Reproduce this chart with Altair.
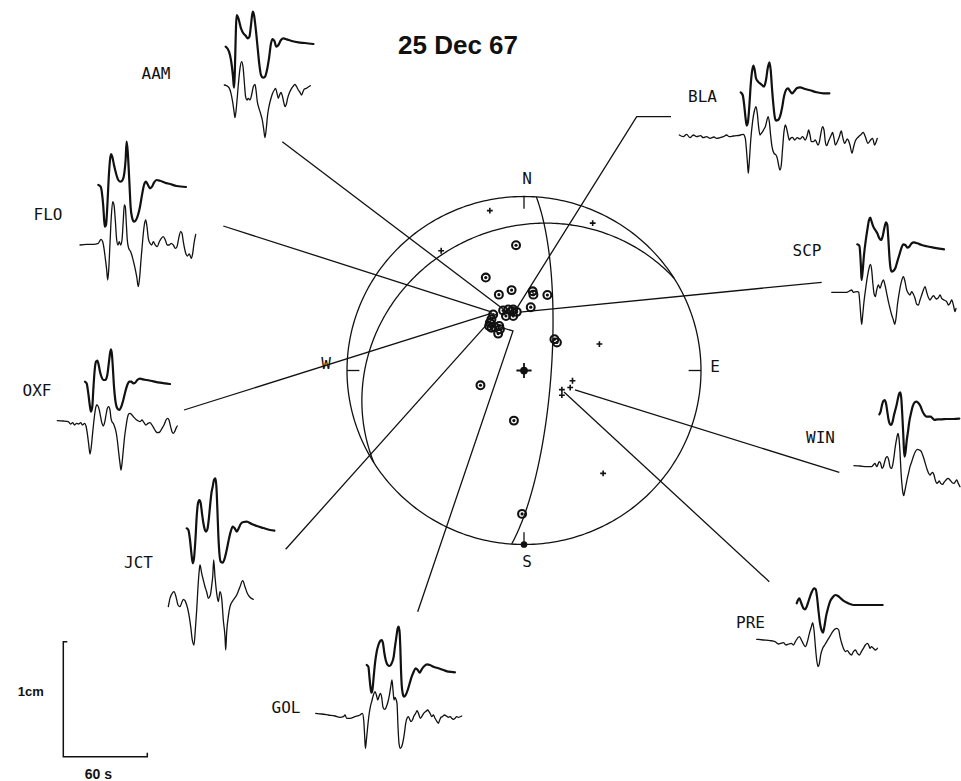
import numpy as np
import pandas as pd
import altair as alt

# ---------------------------------------------------------------------------
# Long-period records, digitised as (t, a) pairs:
#   t = time from the first sample, a = trace amplitude (up positive),
#   both in sheet units (84 units = 60 s, 115 units = 1 cm).
# "TOP" is the upper (heavy) trace of a pair, "BOT" the lower (light) one.
# ---------------------------------------------------------------------------
AAM_TOP = [(0, 0), (3.3, -5), (6, -18.3), (7.3, -30), (8.3, -41), (11, 31.7), (12.7, 28.3),
           (15.3, 18.3), (17.7, 13.3), (20, 11), (22, 8.3), (23.7, 10), (25.3, 21.7), (27, 35),
           (28.3, 31.7), (30, 18.3), (32, -1.7), (33.7, -18.3), (35.3, -28.3), (37.3, -31),
           (39.3, -30), (41.3, -23.3), (43.3, -11.7), (45.3, 3.3), (47, 7.7), (48.7, 5.7),
           (50.7, 0), (52.7, 1.7), (55.3, 6.7), (57.7, 8.3), (61, 7.3), (66, 5.7), (72.7, 4.3),
           (79.3, 3.7), (87.7, 2.7)]
AAM_BOT = [(0, 0), (2.3, -0.7), (4.7, -2.7), (6.7, -8.3), (8.3, -16.7), (10, -28.3), (10.7, -32.7),
           (12.3, -20), (14, 0), (15.7, 16.7), (17.3, 23.3), (18.7, 18.3), (20, 3.3), (21.3, -11.7),
           (22.7, -15), (24, -13.3), (25.7, -15), (27.3, -10), (29, -1.7), (30.7, 0.7), (31.7, -5),
           (33, -16.7), (34.7, -23.3), (36.7, -30), (38, -35), (39.3, -43.3), (40.7, -52.7),
           (42, -43.3), (43.3, -30), (45, -20), (46.7, -13.3), (48.3, -8.3), (50, -5), (51.3, -3.3),
           (52.7, -8.3), (54, -13.3), (55.3, -10), (56.7, -7.3), (58, -10.7), (59.3, -16.7),
           (60.7, -21.7), (62, -19.3), (63.3, -13.3), (65.3, -7.3), (67.3, -3.3), (69.3, -0.7),
           (70.7, 0.7), (72.3, -1.7), (74, -5), (75.7, -7.3), (77.3, -10), (78.7, -6.7), (80, -4),
           (82, -3.3), (84, -2), (86, -0.7)]

FLO_TOP = [(0, 0), (2.3, -1.7), (3.7, -8.3), (5, -21.7), (6, -36.7), (6.7, -41.7), (7.7, -40),
           (9, -21.7), (10.3, 5), (11.7, 25), (12.7, 31), (14, 28.3), (15.7, 20), (17.7, 11.7),
           (20, 5), (22.3, 3.3), (24.3, 5), (26, 11.7), (27.3, 25), (28.3, 43.3), (29.3, 35),
           (30.3, 18.3), (31.3, -1.7), (32.3, -21.7), (33.7, -32.3), (35.7, -36.7), (37.7, -35),
           (39.7, -30), (41.7, -21.7), (43.7, -10), (45.7, 0), (47.7, 3.3), (49.7, 0), (51.7, -3.3),
           (53.7, -1.7), (55.7, 2.3), (58.3, 5), (61.7, 4.3), (66.7, 2.3), (71.7, 1), (78.3, -1),
           (87.7, -2)]
FLO_BOT = [(0, 0), (6.7, 0.7), (13.3, 0.7), (18.3, 1.7), (21, 5.7), (22.7, 3.3), (24, -3.3),
           (25.3, -13.3), (26.7, -25), (27.7, -35), (28.7, -25), (30, 1.7), (31.3, 28.3),
           (32.7, 43.3), (34, 40), (35.3, 25), (36.7, 5), (38, 0), (39.3, 3.3), (40.7, 0), (42, 5),
           (43.3, 25), (44.3, 40), (45.3, 38.3), (46.3, 21.7), (47.3, 5), (48.7, -3.3), (50.7, -6.7),
           (52.7, -13.3), (54.7, -21.7), (56.7, -31.7), (58.3, -41.7), (59.7, -31.7), (61, -15),
           (62.7, 5), (64.3, 20), (65.7, 25), (67, 18.3), (68.3, 6.7), (70, 1.7), (71.7, 0),
           (73.3, 3.3), (75.3, 0), (77.3, -1.7), (79.3, 3.3), (81.3, 6.7), (83.3, 8.3), (85.3, 5),
           (87.3, 0), (89.3, 0), (91.3, 1.7), (93.3, 0), (95.3, -3.3), (97, -1.7), (98.7, 6.7),
           (100.7, 13.3), (102, 11.7), (103.3, 3.3), (105.3, -6.7), (107.3, -11), (109.3, -9),
           (111.3, -13.3), (112.7, -8.3), (114, 1.7), (115.7, 10.7)]

OXF_TOP = [(0, 0), (1.7, -1.7), (3.3, -11.7), (5, -25), (6, -30), (7.3, -25), (8.3, -8.3),
           (9.7, 11.7), (11, 20), (12.3, 21), (13.7, 16.7), (15, 10), (16.7, 4.3), (18.3, 1.7),
           (20.3, 1.7), (22.3, 6.7), (24, 20), (25, 28.3), (26, 32.3), (27, 26.7), (28, 11.7),
           (29, -5), (30.3, -18.3), (32.3, -26.7), (34.3, -28.3), (36.3, -25), (38.3, -18.3),
           (40.3, -10), (42.3, -3.3), (44.3, 0), (46.3, 0), (48.3, -1.7), (50.3, -1), (52.3, 1.7),
           (55, 3), (58.3, 2.3), (61.7, 1.7), (68.3, 0.3), (75, -1), (80, -1.7), (85, -2.3)]
OXF_BOT = [(0, 0), (6, -0.3), (11, -1), (13.3, -3.3), (15.3, -2), (17.3, -4.3), (19.3, -2.7),
           (21.3, -3.3), (23.3, -2), (25.3, -4.3), (27.3, -2.7), (28.7, -5.3), (30, -12.7),
           (31.3, -22.7), (32.7, -33.3), (34, -26), (35.3, -12.7), (36.7, 0.7), (38, 10.7),
           (39.3, 15.7), (40.7, 14.7), (42, 10.7), (43.3, 4), (44.7, -2.7), (46, -5.3), (47.3, -2),
           (48.7, 5.7), (50, 12.3), (51.3, 14), (52.7, 10.7), (53.7, 2.3), (54.7, -1), (56, -2.7),
           (57.3, -6), (58.7, -11), (60, -19.3), (61.3, -31), (62.7, -42.7), (63.7, -49.3),
           (64.7, -42.7), (66, -29.3), (67.3, -16), (68.7, -6), (70, 2.3), (71.3, 6.7), (72.7, 7.3),
           (74.7, 5.7), (76.7, 3.3), (78.7, 1.3), (80.7, 0), (82.7, -1), (84.7, 0.7), (86.7, -2),
           (88.7, -4.3), (90.7, -2.7), (92.7, -2), (94.7, -4.3), (96.7, -7.7), (98.7, -11),
           (100.7, -12), (102.7, -11), (104.7, -7.7), (106.7, -4.3), (108.7, 0.7), (110.3, 2.3),
           (111.7, 0.7), (113.3, -6), (114.7, -11), (116, -12.7), (117.3, -11), (118.7, -7.7),
           (120, -5.3)]

JCT_TOP = [(0, 0), (1.7, -1.7), (3.3, -11.7), (4.7, -25), (6, -35), (7.3, -30), (8.7, -11.7),
           (10, 11.7), (11.3, 25), (12.7, 28.3), (14, 25), (15.3, 15), (16.7, 5), (18, -1),
           (19.3, -3.3), (20.7, -1), (22, 8.3), (23.3, 21.7), (24.7, 35), (26, 41.7), (27.3, 48.3),
           (28.7, 50), (29.7, 41.7), (30.7, 18.3), (31.7, -8.3), (32.7, -25), (34, -33.3),
           (36, -34.3), (38, -30), (40, -21.7), (42, -11.7), (44, -3.3), (46, 1.7), (48, 0),
           (50, -3.3), (52, 0), (54, 4.3), (56.7, 6.3), (60, 6.7), (65, 4.3), (70, 2.3),
           (76.7, 0.3), (83.3, -1.7), (87.7, -2.3)]
JCT_BOT = [(0, 0), (1.7, 8.4), (4.4, 14), (5.7, 15), (7.7, 10), (9.7, 1.7), (11.7, 0), (13.4, 4),
           (15, 7.4), (16.7, 6), (18.4, 1.7), (20.4, -6.6), (22.4, -20), (24, -33.3), (25.7, -38.3),
           (27, -23.3), (28.4, -3.3), (29.7, 20), (31, 36.7), (31.7, 41.7), (33.4, 33.4),
           (35, 26.7), (36.7, 20), (38.4, 14.7), (40, 8.4), (41.7, 10.7), (42.4, 13.4),
           (43.7, 23.7), (44.4, 30), (45.4, 46.7), (46.7, 30), (48.4, 13.4), (50, 5), (51.7, 15),
           (53.4, 8.4), (55, -13.3), (56.7, -30), (57.4, -43.3), (58.4, -25), (60, -10),
           (61.7, 0), (65, 6.7), (68.4, 11.7), (71.7, 20), (74.4, 26), (76.7, 20), (79, 13.4),
           (81.7, 9.4), (85, 7.4)]

GOL_TOP = [(0, 0), (1.7, -1.7), (2.7, -11.7), (3.7, -21.7), (4.7, -27.7), (5.7, -25), (7, -11.7),
           (8.3, 1.7), (10, 13.3), (11.7, 20), (13.7, 24.3), (15, 25), (16.3, 21.7), (17.7, 11.7),
           (19, 5), (21, 0), (23, -1), (25, 1.7), (27, 8.3), (28.3, 18.3), (29.7, 28.3),
           (31, 36.7), (32, 38.3), (33, 31.7), (33.7, 15), (34.3, -5), (35, -20), (36, -28.3),
           (37.3, -31.7), (39, -30), (41, -25), (43, -18.3), (45, -11.7), (47, -6.7), (49, -3.3),
           (51, -5), (53, -7.7), (55, -4.3), (57.7, -1), (60.3, 0.7), (63.3, 0), (66.7, -1.7),
           (71.7, -3.3), (76.7, -5), (81.7, -6.7), (88.3, -7.3)]
GOL_BOT = [(0, 0), (6, -0.7), (12.7, -1.7), (19.3, -2.7), (24.3, -4), (27.7, -3.3), (29.3, -1.7),
           (31, -5), (34.3, -5), (39.3, -3.3), (44.3, -1.7), (46.7, 0), (48, -6.7), (49, -23.3),
           (49.7, -35), (50.7, -26.7), (52, -13.3), (53.3, -1.7), (54.7, 6.7), (56, 11.7),
           (57.7, 18.3), (59.3, 21.7), (60.7, 18.3), (62, 13.3), (63.3, 16.7), (64.7, 20),
           (66, 16), (67.3, 6), (68.7, 4), (70, 5), (71.3, 8.3), (72.7, 13.3), (74, 20),
           (75.3, 28.3), (76.3, 33.3), (77.3, 23.3), (78.3, 13.3), (79.3, 16), (80.3, 14),
           (81.3, 10), (82.3, -13.3), (83.3, -30), (84.7, -35), (86, -33.3), (87.3, -28.3),
           (88.7, -20), (90, -10), (91.3, -5), (92.7, -3.3), (94, -6), (95.3, -8.3), (96.7, -6.7),
           (98, -3.3), (100, 0), (101.3, 2.7), (102.7, 0), (104.7, -5), (106, -3.3), (108, 0),
           (110, 1.7), (112, 3.3), (113.3, 1.7), (114.7, -0.7), (116, -3.3), (117.7, -1.7),
           (119.3, -5), (121.3, -8.3), (122.7, -10), (124, -6.7), (125.3, -4), (126.7, -3.3),
           (128.7, -1.7), (130.7, -2.7), (132.7, -4), (134.7, -3.3), (136, -5), (138, -6),
           (139.3, -5), (141, -3.3), (142.7, -4), (146, -2.7)]

BLA_TOP = [(0, 0), (2, -2.7), (3.3, -11), (4.7, -24.3), (6, -33.3), (7.3, -29.3), (8.7, -12.7),
           (10, 7.3), (11.3, 20.7), (12.7, 26.7), (14, 22.3), (15.3, 14), (17.3, 10.7), (19.3, 9),
           (21.3, 7.3), (23.3, 5.7), (25.3, 12.3), (27, 24), (28.7, 30), (30, 22.3), (31.3, 4),
           (32.7, -12.7), (34, -24.3), (35.3, -28.3), (37.3, -27.7), (39.3, -24.3), (41.3, -16),
           (43.3, -4.3), (45.3, 2.3), (47.3, 4), (49.3, 1.3), (51.3, -1), (53.3, 0.7), (56, 4),
           (59.3, 5), (64.3, 3.3), (69.3, 2), (76, 0), (82.7, -1), (88.7, -1)]
BLA_BOT = [(0, 0), (4, -1.7), (7.3, 0.7), (10.7, -2.7), (14, 0), (17.3, -1.7), (21.3, -0.7),
           (24, -2.7), (27.3, -1.7), (30.7, -3.3), (34.7, -2), (37.3, -3.3), (40.7, -2.7),
           (44, -1.7), (47.3, 0), (50, -1.7), (54, -1), (57.3, -0.7), (61.3, 0), (64, 0.7),
           (66, -3.3), (67.3, -16.7), (68.3, -30), (69, -38.3), (70, -26.7), (71.3, -6.7),
           (73.3, 13.3), (75.3, 25), (76.7, 28.3), (78, 21.7), (79.3, 8.3), (80.7, 0), (82, 1.7),
           (83.3, 3.3), (84.7, 6), (86, 8.3), (87.3, 13.3), (88.7, 18.3), (90, 13.3), (91.3, 0),
           (92.7, -11.7), (94.7, -18.3), (96.7, -20), (98, -23.3), (99.3, -30), (100.7, -35),
           (102, -30), (103.3, -13.3), (104.7, 3.3), (106, 10), (107.3, 6.7), (108.7, 0),
           (110, -5), (111.3, -3.3), (113.3, -2.3), (115.3, -5), (118, -2.7), (120.7, -4),
           (123.3, -1.7), (126, -5), (128, 0), (129.3, 5), (130.7, 0), (132, -6.7), (134, -6.7),
           (136, -5), (138.7, -10), (140, -7.3), (141.3, 0), (143.3, 8.3), (144.7, 5), (146, -6.7),
           (147.3, -10.7), (149.3, -6), (152, 0), (153.3, 2.7), (154.7, -3.3), (156, -10),
           (158, -6.7), (160, -1.7), (162, 4), (163.3, -1.7), (165.3, -8.3), (168, -4),
           (170.7, -10), (172.7, -18.3), (174, -13.3), (176, -6), (179.3, -1.7), (182, 0.7),
           (184, 2.7), (186, -1.7), (188.7, -8.3), (191.3, -5), (193.3, -3.3), (195.3, -10),
           (196.7, -7.3), (198, -3.3)]

SCP_TOP = [(0, 0), (2, -1.3), (3, -10.7), (3.7, -24), (4.3, -35.7), (5.3, -27.3), (6.7, -10.7),
           (8.3, 2.7), (10, 14.3), (11.7, 24.3), (13, 26.7), (14.3, 22.7), (16, 17.7), (18, 14.3),
           (20, 11), (22, 6), (23.7, 4.3), (25.3, 7.7), (27, 16), (28.7, 22), (30, 19.3), (31, 6),
           (32, -10.7), (33, -22.3), (34.3, -27.3), (36, -26.7), (38, -24), (40, -17.3),
           (42, -10.7), (44, -4), (46, 0), (48, -0.7), (50, -3.3), (52, -2.3), (54.3, 1),
           (56.7, 2), (60, 1), (64.3, -0.7), (69.3, -2), (76, -3.3), (82, -4.3), (86.7, -5)]
SCP_BOT = [(0, 0), (10, 0), (15, 0), (17.7, 1.3), (20, 2.3), (21.7, 0), (25.7, 0.7), (27, 0),
           (28.3, -12.7), (29.3, -26), (30, -32), (31, -22.7), (32.3, -9.3), (34, 4), (35.7, 15.7),
           (37.3, 24), (38.7, 28), (40, 22.3), (41, 10.7), (42.3, -1), (43.7, -4.3), (45, 2.3),
           (46.7, 7.3), (48.3, 4), (50, 9), (51.7, 12.3), (53.3, 7.3), (55, -1), (56.7, -9.3),
           (58.3, -16), (60, -22.7), (61.7, -27.7), (63, -32), (64.3, -26), (65.7, -12.7),
           (67.7, 0.7), (69.7, 10.7), (71.7, 15.7), (73.3, 10.7), (75, 2.3), (76.7, -1),
           (78.3, -2.7), (80, 0.7), (81.7, -2), (83.3, -6), (85, -12), (86.7, -12.7), (88.3, -7.7),
           (90, -2.7), (91.7, 2.3), (93.3, 5.7), (95, 0), (96.7, -5.3), (98.3, -7.7), (100, -5.3),
           (101.7, -3.3), (103.3, -5.3), (105, -6.7), (106.7, -5.3), (108.3, -2.7), (110, -6),
           (112.3, -7.7), (115, -9.3), (116.7, -12.7), (118.3, -11), (120, -7.7), (121.7, -12.7),
           (123.3, -19.3), (124.3, -16)]

WIN_TOP = [(0, 0), (1.3, 2.7), (2.7, 9.3), (4, 13.3), (5.3, 14.3), (6.7, 11), (8, 2.7), (9.3, -5.7),
           (10.7, -10), (12, -10.7), (13.3, -7.3), (14.7, -0.7), (16, 4.3), (17.3, 9.3), (18.7, 16),
           (20, 21), (21, 22), (22, 16), (23, -0.7), (24, -20.7), (24.7, -35.7), (25.3, -42.3),
           (26.3, -37.3), (27.3, -27.3), (28.7, -17.3), (30, -7.3), (31.7, 1), (33.3, 7.7),
           (35.3, 12), (37.3, 12.7), (39.3, 11), (41.3, 7.7), (43.3, 2.7), (45.3, -0.7),
           (47.3, -2.3), (49.3, -2.3), (51.3, -2.3), (53.3, -4), (55.3, -5.7), (58, -5),
           (62.3, -5), (67.3, -4.7), (74, -4.7), (80, -4.3)]
WIN_BOT = [(0, 0), (6, -0.3), (12.7, -1), (17.7, -1), (19.3, 0.7), (21, 2.3), (22.7, -1),
           (23.7, 0.7), (25.3, 4), (26.7, 2.3), (28, -2.7), (29.3, -1), (30.7, 4), (32, 8),
           (33.3, 9), (34.7, 5.7), (36, -1), (37.3, -2.7), (38.7, 0.7), (40, 9), (41.3, 19),
           (42.7, 27.3), (44, 32.3), (45, 27.3), (46, 14), (47, -6), (48, -19.3), (49, -27.7),
           (49.7, -30), (50.7, -26), (52, -19.3), (53.3, -12.7), (54.7, -6.7), (56, -1), (57.7, 4),
           (59.3, 9), (61.3, 14), (63.3, 16.3), (65.3, 15.7), (67.3, 14), (69.3, 9), (71.3, 2.3),
           (73.3, -4.3), (74.7, -7.7), (76, -9.3), (77.3, -7.7), (78.7, -6.7), (80, -9.3),
           (81.3, -14.3), (82.7, -17.7), (84, -16.7), (85.3, -15.3), (86.7, -17.7), (88.7, -18.7),
           (90, -16.7), (92, -14.3), (94, -12.7), (96, -14.3), (98, -16.7), (100, -17.7),
           (101.3, -16), (102.7, -14.3), (104.3, -17.7), (106, -21)]

PRE_TOP = [(0, 0), (1.3, 3.3), (2.7, 5), (4, 1.7), (5.3, -1.7), (6.7, -5), (8.3, -6), (10, -3.3),
           (11.7, 1.7), (13.3, 6.7), (15.3, 11.7), (17.3, 15), (19, 14), (20.3, 6.7), (21.7, -6.7),
           (23.3, -20), (25, -27.3), (26.3, -29.3), (27.7, -23.3), (29.3, -13.3), (31.3, -5),
           (33.3, 1.7), (36, 6), (38.7, 8.3), (41.3, 7.3), (44, 5), (46.7, 2.7), (50, 0.7),
           (53.3, -0.7), (56.7, -1.7), (63.3, -1.7), (73.3, -1.7), (86, -1.7)]
PRE_BOT = [(0, 0), (6.7, -0.7), (13.3, -1.3), (18.3, -2.3), (21.7, -4.7), (24, -4), (26.7, -3.3),
           (29.3, -5.7), (32, -4.7), (34.7, -4), (36.7, -5.7), (38.7, -2.3), (40.7, 1), (42.7, 2.7),
           (44.7, -0.7), (46.7, -4.7), (48.7, -7.3), (50.7, -2.3), (52.7, 6), (54.7, 12.7),
           (56, 16.7), (57.3, 9.3), (58.7, -7.3), (60, -20.7), (61.3, -27.3), (62.7, -24),
           (64, -15.7), (66, -9), (68, -5.7), (70, -2.3), (72, 1), (74, 4.3), (76, 7.7), (78, 10),
           (80, 11), (82, 9.3), (83.3, 2.7), (85, -4), (86.7, -9), (88.7, -12.3), (90.7, -11.3),
           (92.7, -14), (94.7, -15.7), (96.7, -12.3), (98.7, -10.7), (100.7, -14), (102.7, -15.7),
           (104.7, -12.3), (106.7, -9), (108.7, -5.7), (110.7, -4), (112, -5.7), (113.3, -9),
           (114.7, -7.3), (116.7, -9), (118.7, -10.7), (120.7, -9)]

STATIONS = ["AAM", "FLO", "OXF", "JCT", "GOL", "BLA", "SCP", "WIN", "PRE"]
RECORDS = {
    "AAM": (AAM_TOP, AAM_BOT), "FLO": (FLO_TOP, FLO_BOT), "OXF": (OXF_TOP, OXF_BOT),
    "JCT": (JCT_TOP, JCT_BOT), "GOL": (GOL_TOP, GOL_BOT), "BLA": (BLA_TOP, BLA_BOT),
    "SCP": (SCP_TOP, SCP_BOT), "WIN": (WIN_TOP, WIN_BOT), "PRE": (PRE_TOP, PRE_BOT),
}

# ---------------------------------------------------------------------------
# Focal sphere (equal-area, lower hemisphere); readings as (east, north) in
# units of the primitive radius.
# ---------------------------------------------------------------------------
NODAL_PLANES = [(4, 77.5), (238, 20)]          # (strike, dip) in degrees

COMPRESSIONS = [(-0.193, 0.919), (0.388, 0.847), (-0.468, 0.688), (0.426, 0.152),
                (0.274, -0.059), (0.261, -0.098), (0.214, -0.110), (0.214, -0.142),
                (0.447, -0.591)]
DILATATIONS = [(-0.045, 0.720), (-0.216, 0.534), (-0.070, 0.462), (-0.142, 0.436),
               (0.049, 0.455), (0.053, 0.436), (0.132, 0.434), (0.038, 0.364),
               (-0.118, 0.345), (-0.089, 0.351), (-0.070, 0.341), (-0.061, 0.351),
               (-0.041, 0.337), (-0.102, 0.313), (-0.061, 0.313), (-0.174, 0.322),
               (-0.184, 0.294), (-0.193, 0.274), (-0.197, 0.256), (-0.184, 0.246),
               (-0.165, 0.250), (-0.140, 0.256), (-0.136, 0.237), (-0.146, 0.212),
               (0.172, 0.180), (0.186, 0.161), (-0.246, -0.085), (-0.057, -0.288),
               (-0.011, -0.824)]
EPICENTRE = [(0.0, 0.0)]
SOUTH_MARK = [(0.0, -1.0)]

# where each station's ray pierces the sphere (leader-line end)
STATION_ON_SPHERE = {
    "AAM": (-0.096, 0.336), "FLO": (-0.181, 0.336), "OXF": (-0.181, 0.330),
    "JCT": (-0.153, 0.330), "GOL": (-0.136, 0.250), "BLA": (-0.040, 0.359),
    "SCP": (-0.023, 0.336), "WIN": (0.288, -0.112), "PRE": (0.226, -0.124),
}
COMPASS = ["N", "E", "S", "W"]
COMPASS_AZIMUTH = [0, 90, 180, 270]

SCALE_AMPLITUDE_CM = 1
SCALE_TIME_S = 60

# ---------------------------------------------------------------------------
# Sheet layout (sheet units, origin top-left)
# ---------------------------------------------------------------------------
SHEET_W, SHEET_H = 961, 781
SPHERE = dict(cx=524.0, cy=370.5, rx=177.0, ry=174.0)
UNITS_PER_CM = 115.0
UNITS_PER_S = 84.0 / 60.0

TRACE_ORIGIN = {
    "AAM": ((225.7, 46.7), (224.3, 85.0)),
    "FLO": ((98.3, 185.0), (80.0, 245.0)),
    "OXF": ((85.0, 381.7), (57.3, 420.7)),
    "JCT": ((186.7, 528.3), (168.3, 606.7)),
    "GOL": ((366.7, 665.0), (315.7, 713.3)),
    "BLA": ((740.7, 92.3), (679.3, 135.0)),
    "SCP": ((857.3, 244.3), (831.7, 292.3)),
    "WIN": ((879.3, 414.3), (854.0, 465.7)),
    "PRE": ((796.7, 603.3), (756.7, 639.3)),
}
LABEL_XY = {
    "AAM": (156, 73.5), "FLO": (48, 215), "OXF": (37, 391), "JCT": (138.5, 562.5),
    "GOL": (286, 708), "BLA": (702.5, 96.5), "SCP": (807, 251), "WIN": (820.5, 438),
    "PRE": (750.5, 622.5),
}
# leader lines start near the record and run to the station point on the sphere
LEADER_WAYPOINTS = {
    "AAM": [(282.3, 141.7)], "FLO": [(223.3, 226.0)], "OXF": [(184.0, 410.0)],
    "JCT": [(285.7, 549.3)], "GOL": [(417.7, 611.7), (513.0, 331.0)],
    "BLA": [(671.0, 116.7), (636.7, 116.7)], "SCP": [(821.7, 282.3)],
    "WIN": [(839.3, 472.3)], "PRE": [(769.3, 581.7)],
}
COMPASS_LABEL_OFFSET = {"N": (3, -18), "E": (14, -4), "S": (3, 17.5), "W": (-21, -7)}
SCALE_BAR_CORNER = (63.3, 756.7)
TITLE_XY = (458, 46)


def to_sheet(e, n):
    e = np.asarray(e, dtype=float)
    n = np.asarray(n, dtype=float)
    return SPHERE["cx"] + SPHERE["rx"] * e, SPHERE["cy"] - SPHERE["ry"] * n


def great_circle(strike, dip, num=241):
    """Lower-hemisphere equal-area trace of a plane given strike/dip."""
    lam = np.linspace(0.0, np.pi, num)
    s, d = np.radians(strike), np.radians(dip)
    sv = np.array([np.cos(s), np.sin(s), 0.0])
    dd = s + np.pi / 2
    dv = np.array([np.cos(d) * np.cos(dd), np.cos(d) * np.sin(dd), np.sin(d)])
    v = np.outer(np.cos(lam), sv) + np.outer(np.sin(lam), dv)
    plunge = np.arcsin(np.clip(v[:, 2], -1, 1))
    trend = np.arctan2(v[:, 1], v[:, 0])
    r = np.sqrt(2.0) * np.sin((np.pi / 2 - plunge) / 2)
    return r * np.sin(trend), r * np.cos(trend)


# ---- records ---------------------------------------------------------------
rows = []
for st in STATIONS:
    for part, samples, origin in zip(("top", "bottom"), RECORDS[st], TRACE_ORIGIN[st]):
        ox, oy = origin
        for i, (t, a) in enumerate(samples):
            rows.append({"trace": f"{st}-{part}", "part": part, "i": i,
                         "x": ox + t, "y": oy - a})
traces = pd.DataFrame(rows)
top_traces = traces[traces.part == "top"]
bottom_traces = traces[traces.part == "bottom"]

# ---- sphere outline and nodal planes --------------------------------------
theta = np.linspace(0, 2 * np.pi, 361)
px, py = to_sheet(np.sin(theta), np.cos(theta))
outline = pd.DataFrame({"curve": "primitive", "i": np.arange(len(px)), "x": px, "y": py})
plane_rows = []
for k, (strike, dip) in enumerate(NODAL_PLANES):
    e, n = great_circle(strike, dip)
    gx, gy = to_sheet(e, n)
    plane_rows.append(pd.DataFrame({"curve": f"plane{k}", "i": np.arange(len(gx)),
                                    "x": gx, "y": gy}))
curves = pd.concat([outline] + plane_rows, ignore_index=True)

# compass ticks and letters
az = np.radians(COMPASS_AZIMUTH)
t1x, t1y = to_sheet(np.sin(az), np.cos(az))
t2x, t2y = to_sheet(0.93 * np.sin(az), 0.93 * np.cos(az))
ticks = pd.DataFrame({"x": t1x, "y": t1y, "x2": t2x, "y2": t2y})
lab_x, lab_y = to_sheet(1.0 * np.sin(az), 1.0 * np.cos(az))
compass = pd.DataFrame({
    "label": COMPASS,
    "x": [lab_x[k] + COMPASS_LABEL_OFFSET[c][0] for k, c in enumerate(COMPASS)],
    "y": [lab_y[k] + COMPASS_LABEL_OFFSET[c][1] for k, c in enumerate(COMPASS)],
})

# polarity readings
cx_, cy_ = to_sheet([p[0] for p in COMPRESSIONS], [p[1] for p in COMPRESSIONS])
comp = pd.DataFrame({"x": cx_, "y": cy_})
dx_, dy_ = to_sheet([p[0] for p in DILATATIONS], [p[1] for p in DILATATIONS])
dil = pd.DataFrame({"x": dx_, "y": dy_})
ex_, ey_ = to_sheet([p[0] for p in EPICENTRE], [p[1] for p in EPICENTRE])
epi = pd.DataFrame({"x": ex_, "y": ey_})
sx_, sy_ = to_sheet([p[0] for p in SOUTH_MARK], [p[1] for p in SOUTH_MARK])
south = pd.DataFrame({"x": sx_, "y": sy_})

# leader lines
lead_rows = []
for st in STATIONS:
    pts = list(LEADER_WAYPOINTS[st])
    lx, ly = to_sheet(*STATION_ON_SPHERE[st])
    pts.append((float(lx), float(ly)))
    for i, (x, y) in enumerate(pts):
        lead_rows.append({"station": st, "i": i, "x": x, "y": y})
leaders = pd.DataFrame(lead_rows)

labels = pd.DataFrame({"label": STATIONS,
                       "x": [LABEL_XY[s][0] for s in STATIONS],
                       "y": [LABEL_XY[s][1] for s in STATIONS]})

# scale bar: 1 cm amplitude, 60 s time
bx, by = SCALE_BAR_CORNER
bar_h = SCALE_AMPLITUDE_CM * UNITS_PER_CM
bar_w = SCALE_TIME_S * UNITS_PER_S
scale_bar = pd.DataFrame({
    "i": [0, 1, 2, 3, 4],
    "x": [bx + 4, bx, bx, bx + bar_w, bx + bar_w],
    "y": [by - bar_h, by - bar_h, by, by, by - 4],
})
amp_text = pd.DataFrame({"label": [f"{SCALE_AMPLITUDE_CM}cm"],
                         "x": [bx - 19.5], "y": [by - bar_h / 2 - 7]})
time_text = pd.DataFrame({"label": [f"{SCALE_TIME_S} s"],
                          "x": [bx + bar_w / 2 - 7], "y": [by + 18.5]})
title = pd.DataFrame({"label": ["25 Dec 67"], "x": [TITLE_XY[0]], "y": [TITLE_XY[1]]})

# ---- chart -----------------------------------------------------------------
X = alt.X("x:Q", scale=alt.Scale(domain=[0, SHEET_W], nice=False, zero=False), axis=None)
Y = alt.Y("y:Q", scale=alt.Scale(domain=[0, SHEET_H], nice=False, zero=False, reverse=True),
          axis=None)
INK = "#111111"
PLOTTER_FONT = "DejaVu Sans Mono"

sphere_lines = alt.Chart(curves).mark_line(color=INK, strokeWidth=1.3).encode(
    x=X, y=Y, detail="curve:N", order="i:Q")
tick_marks = alt.Chart(ticks).mark_rule(color=INK, strokeWidth=1.3).encode(
    x=X, y=Y, x2="x2:Q", y2="y2:Q")
leader_lines = alt.Chart(leaders).mark_line(color=INK, strokeWidth=1.3).encode(
    x=X, y=Y, detail="station:N", order="i:Q")
top_lines = alt.Chart(top_traces).mark_line(
    color=INK, strokeWidth=2.2, interpolate="monotone", strokeJoin="round", strokeCap="round"
).encode(x=X, y=Y, detail="trace:N", order="i:Q")
bottom_lines = alt.Chart(bottom_traces).mark_line(
    color=INK, strokeWidth=1.3, interpolate="monotone", strokeJoin="round", strokeCap="round"
).encode(x=X, y=Y, detail="trace:N", order="i:Q")

plus_path = "M-1,0L1,0M0,-1L0,1"
comp_marks = alt.Chart(comp).mark_point(
    shape=plus_path, size=34, filled=False, color=INK, strokeWidth=1.6, opacity=1
).encode(x=X, y=Y)
dil_rings = alt.Chart(dil).mark_point(
    shape="circle", size=62, filled=False, color=INK, strokeWidth=2.1, opacity=1
).encode(x=X, y=Y)
dil_dots = alt.Chart(dil).mark_point(
    shape="circle", size=10, filled=True, color=INK, opacity=1
).encode(x=X, y=Y)
epi_dot = alt.Chart(epi).mark_point(
    shape="circle", size=60, filled=True, color=INK, opacity=1).encode(x=X, y=Y)
epi_cross = alt.Chart(epi).mark_point(
    shape=plus_path, size=230, filled=False, color=INK, strokeWidth=1.8, opacity=1
).encode(x=X, y=Y)
south_dot = alt.Chart(south).mark_point(
    shape="circle", size=45, filled=True, color=INK, opacity=1).encode(x=X, y=Y)

compass_text = alt.Chart(compass).mark_text(
    font=PLOTTER_FONT, fontSize=16, color=INK, align="center", baseline="middle"
).encode(x=X, y=Y, text="label:N")
station_text = alt.Chart(labels).mark_text(
    font=PLOTTER_FONT, fontSize=16, color=INK, align="center", baseline="middle"
).encode(x=X, y=Y, text="label:N")

bar_line = alt.Chart(scale_bar).mark_line(color=INK, strokeWidth=1.5).encode(
    x=X, y=Y, order="i:Q")
amp_label = alt.Chart(amp_text).mark_text(
    font="Liberation Sans", fontSize=13, fontWeight="bold", color=INK,
    align="right", baseline="middle"
).encode(x=X, y=Y, text="label:N")
time_label = alt.Chart(time_text).mark_text(
    font="Liberation Sans", fontSize=14, fontWeight="bold", color=INK,
    align="center", baseline="middle"
).encode(x=X, y=Y, text="label:N")
title_text = alt.Chart(title).mark_text(
    font="Liberation Sans", fontSize=26, fontWeight="bold", color=INK,
    align="center", baseline="middle"
).encode(x=X, y=Y, text="label:N")

chart = alt.layer(
    sphere_lines, tick_marks, leader_lines, top_lines, bottom_lines,
    comp_marks, dil_rings, dil_dots, epi_dot, epi_cross, south_dot,
    compass_text, station_text, bar_line, amp_label, time_label, title_text,
).properties(
    width=SHEET_W, height=SHEET_H, padding=0,
    autosize=alt.AutoSizeParams(type="none"),
    background="white",
).configure_view(stroke=None)

chart.save("out.html", embed_options={"renderer": "svg", "actions": False})
